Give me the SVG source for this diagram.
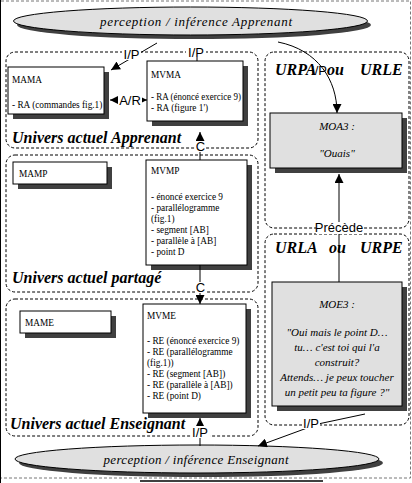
<svg xmlns="http://www.w3.org/2000/svg" width="412" height="483" viewBox="0 0 412 483">
<defs>
<style>
.frame{fill:none;stroke:#777;stroke-width:1;stroke-dasharray:3,2}
.grp{fill:none;stroke:#000;stroke-width:1;stroke-dasharray:3,2}
.shadow{fill:#404040;stroke:none}
.box{fill:#fff;stroke:#000;stroke-width:1}
.gbox{fill:#e0e0e0;stroke:#000;stroke-width:1}
.ell{fill:#e0e0e0;stroke:#000;stroke-width:1}
.t{font-family:"Liberation Serif","Times New Roman",serif;font-size:9.3px;fill:#000}
.ti{font-family:"Liberation Serif","Times New Roman",serif;font-size:11px;font-style:italic;fill:#000}
.et{font-family:"Liberation Serif","Times New Roman",serif;font-size:13px;font-style:italic;fill:#000}
.title{font-family:"Liberation Serif","Times New Roman",serif;font-size:16px;font-style:italic;font-weight:bold;fill:#000}
.lab{font-family:"Liberation Sans",Arial,sans-serif;font-size:13px;fill:#000}
.lbg{fill:#fff;stroke:none}
.con{fill:none;stroke:#000;stroke-width:1}
</style>
<marker id="arr" viewBox="0 0 10 10" refX="10" refY="5" markerWidth="9" markerHeight="9" markerUnits="userSpaceOnUse" orient="auto-start-reverse">
<path d="M0,0 L10,5 L0,10 z" fill="#000"/>
</marker>
</defs>

<!-- outer frame -->
<path class="frame" d="M1,1 H410.5 V478 H1"/>
<line x1="0.5" y1="0" x2="0.5" y2="483" stroke="#000" stroke-width="1"/>
<line x1="140" y1="481" x2="323" y2="481" stroke="#000" stroke-width="1.5"/>

<!-- group frames -->
<g id="univers-apprenant">
<rect class="grp" x="6" y="52" width="252" height="96" rx="9"/>
<text class="title" x="12" y="143">Univers actuel Apprenant</text>
</g>
<g id="univers-partage">
<rect class="grp" x="6" y="155" width="252" height="137" rx="9"/>
<text class="title" x="12" y="283">Univers actuel partagé</text>
</g>
<g id="univers-enseignant">
<rect class="grp" x="6" y="299" width="252" height="137" rx="9"/>
<text class="title" x="10" y="429">Univers actuel Enseignant</text>
</g>
<g id="urpa-urle">
<rect class="grp" x="265" y="52" width="144" height="176" rx="9"/>
<text class="title" x="275" y="75">URPA</text>
<text class="title" x="327" y="75">ou</text>
<text class="title" x="360" y="75">URLE</text>
</g>
<g id="urla-urpe">
<rect class="grp" x="265" y="234" width="144" height="191" rx="9"/>
<text class="title" x="275" y="253">URLA</text>
<text class="title" x="329" y="253">ou</text>
<text class="title" x="360" y="253">URPE</text>
</g>

<!-- ellipses -->
<g id="perception-apprenant">
<ellipse class="shadow" cx="194" cy="25" rx="177" ry="14"/>
<ellipse class="ell" cx="190.5" cy="21" rx="177" ry="14"/>
<text class="et" x="196" y="26" text-anchor="middle" textLength="192" lengthAdjust="spacing">perception / inférence Apprenant</text>
</g>
<g id="perception-enseignant">
<ellipse class="shadow" cx="201" cy="463" rx="182" ry="14"/>
<ellipse class="ell" cx="197" cy="459" rx="182" ry="14"/>
<text class="et" x="196" y="464" text-anchor="middle" textLength="185" lengthAdjust="spacing">perception / inférence Enseignant</text>
</g>

<!-- nodes -->
<g id="mama">
<rect class="shadow" x="13" y="72" width="96" height="47"/>
<rect class="box" x="8" y="67" width="96" height="47"/>
<text class="t" x="12" y="83">MAMA</text>
<text class="t" x="12" y="108">- RA (commandes fig.1)</text>
</g>
<g id="mvma">
<rect class="shadow" x="152" y="66" width="96" height="60"/>
<rect class="box" x="147" y="61" width="96" height="60"/>
<text class="t" x="151" y="78">MVMA</text>
<text class="t" x="151" y="100" textLength="90" lengthAdjust="spacingAndGlyphs">- RA (énoncé exercice 9)</text>
<text class="t" x="151" y="111">- RA (figure 1')</text>
</g>
<g id="mamp">
<rect class="shadow" x="18" y="167" width="94" height="22"/>
<rect class="box" x="13" y="162" width="94" height="22"/>
<text class="t" x="19" y="177">MAMP</text>
</g>
<g id="mvmp">
<rect class="shadow" x="151" y="165" width="101" height="105"/>
<rect class="box" x="146" y="160" width="101" height="105"/>
<text class="t" x="151" y="174">MVMP</text>
<text class="t" x="151" y="200">- énoncé exercice 9</text>
<text class="t" x="151" y="211">- parallélogramme</text>
<text class="t" x="151" y="222">(fig.1)</text>
<text class="t" x="151" y="233">- segment [AB]</text>
<text class="t" x="151" y="244">- parallèle à [AB]</text>
<text class="t" x="151" y="255">- point D</text>
</g>
<g id="mame">
<rect class="shadow" x="25" y="316" width="91" height="22"/>
<rect class="box" x="20" y="311" width="91" height="22"/>
<text class="t" x="25" y="326">MAME</text>
</g>
<g id="mvme">
<rect class="shadow" x="148" y="309" width="103" height="109"/>
<rect class="box" x="143" y="304" width="103" height="109"/>
<text class="t" x="147" y="319">MVME</text>
<text class="t" x="147" y="344">- RE (énoncé exercice 9)</text>
<text class="t" x="147" y="355">- RE (parallélogramme</text>
<text class="t" x="147" y="366">(fig.1))</text>
<text class="t" x="147" y="377">- RE (segment [AB])</text>
<text class="t" x="147" y="388">- RE (parallèle à [AB])</text>
<text class="t" x="147" y="399">- RE (point D)</text>
</g>
<g id="moa3">
<rect class="shadow" x="275" y="118" width="132" height="55"/>
<rect class="gbox" x="270" y="113" width="132" height="55"/>
<text class="ti" x="337" y="130" text-anchor="middle">MOA3 :</text>
<text class="ti" x="337" y="157" text-anchor="middle">"Ouais"</text>
</g>
<g id="moe3">
<rect class="shadow" x="277" y="287" width="130" height="124"/>
<rect class="gbox" x="272" y="282" width="130" height="124"/>
<text class="ti" x="337" y="308" text-anchor="middle">MOE3 :</text>
<text class="ti" x="337" y="336" text-anchor="middle">"Oui mais le point D…</text>
<text class="ti" x="337" y="351" text-anchor="middle">tu… c'est toi qui l'a</text>
<text class="ti" x="337" y="366" text-anchor="middle">construit?</text>
<text class="ti" x="337" y="381" text-anchor="middle">Attends… je peux toucher</text>
<text class="ti" x="337" y="396" text-anchor="middle">un petit peu ta figure ?"</text>
</g>

<!-- connectors -->
<g id="connectors">
<line class="con" x1="157" y1="43" x2="111" y2="70" marker-end="url(#arr)"/>
<rect class="lbg" x="122" y="47" width="19" height="13"/>
<text class="lab" x="131.5" y="59" text-anchor="middle">I/P</text>

<line class="con" x1="197" y1="57" x2="197" y2="61" stroke-width="2"/>
<rect class="lbg" x="186" y="46" width="20" height="11"/>
<text class="lab" x="196" y="57" text-anchor="middle">I/P</text>

<line class="con" x1="110" y1="100" x2="147" y2="100" marker-start="url(#arr)" marker-end="url(#arr)"/>
<rect class="lbg" x="118" y="93" width="24" height="13"/>
<text class="lab" x="130" y="105" text-anchor="middle">A/R</text>

<line class="con" x1="200" y1="160" x2="200" y2="132" marker-end="url(#arr)"/>
<rect class="lbg" x="195" y="141" width="11" height="11"/>
<text class="lab" x="200.5" y="151" text-anchor="middle">C</text>

<line class="con" x1="200" y1="265" x2="200" y2="304" marker-end="url(#arr)"/>
<rect class="lbg" x="195" y="282" width="11" height="11"/>
<text class="lab" x="200.5" y="292" text-anchor="middle">C</text>

<line class="con" x1="200" y1="446" x2="200" y2="418" marker-end="url(#arr)"/>
<rect class="lbg" x="191" y="426" width="19" height="12"/>
<text class="lab" x="200" y="437" text-anchor="middle">I/P</text>

<path class="con" d="M278,42 C318,50 337,80 337,113" marker-end="url(#arr)"/>
<text class="lab" x="319" y="75" text-anchor="middle">I/P</text>

<line class="con" x1="339" y1="282" x2="339" y2="174" marker-end="url(#arr)"/>
<rect class="lbg" x="316" y="222" width="46" height="12"/>
<text class="lab" x="339" y="232" text-anchor="middle" font-size="12">Précède</text>

<path class="con" d="M365,414 L318,424 L258,446" marker-end="url(#arr)"/>
<rect class="lbg" x="302" y="418" width="18" height="11"/>
<text class="lab" x="311" y="428" text-anchor="middle">I/P</text>
</g>
</svg>
